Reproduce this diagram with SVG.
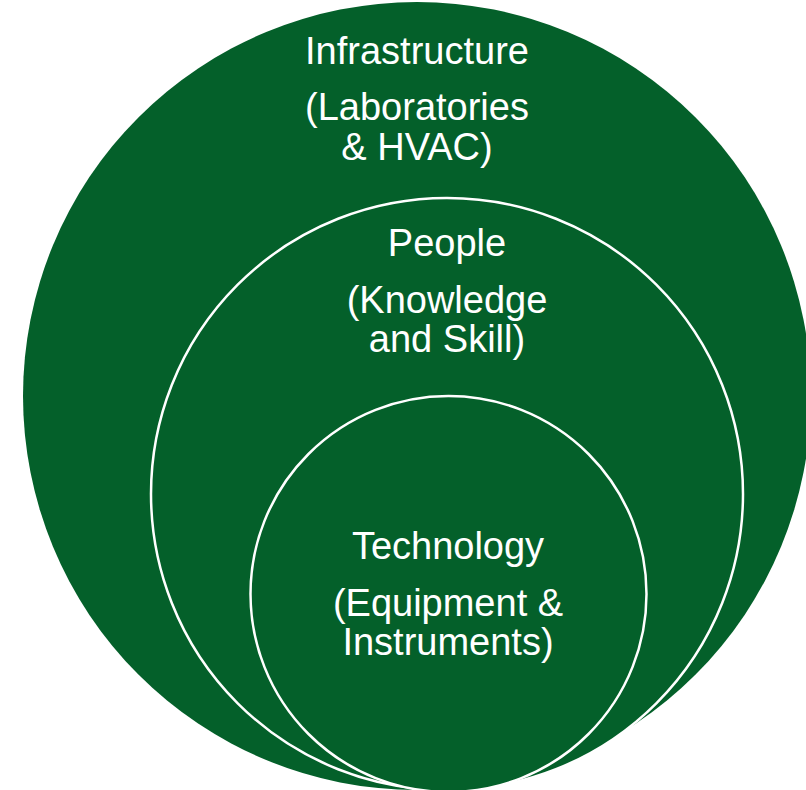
<svg xmlns="http://www.w3.org/2000/svg" width="806" height="790" viewBox="0 0 806 790">
<style>
.ring{fill:#04602A;stroke:#FFFFFF;stroke-width:2.5}
.lbl{font-family:"Liberation Sans",Arial,sans-serif;font-size:38px;fill:#FFFFFF;text-anchor:middle}
</style>
<rect width="806" height="790" fill="#FFFFFF"/>
<g id="infrastructure">
<circle cx="417" cy="396" r="394" fill="#04602A"/>
<text class="lbl" x="417" y="64">Infrastructure</text>
<text class="lbl" x="417" y="120">(Laboratories</text>
<text class="lbl" x="417" y="160">&amp; HVAC)</text>
</g>
<g id="people">
<circle class="ring" cx="447" cy="494" r="296"/>
<text class="lbl" x="447" y="256">People</text>
<text class="lbl" x="447" y="313">(Knowledge</text>
<text class="lbl" x="447" y="352">and Skill)</text>
</g>
<g id="technology">
<circle class="ring" cx="448.5" cy="594" r="198"/>
<text class="lbl" x="448" y="559">Technology</text>
<text class="lbl" x="448" y="616">(Equipment &amp;</text>
<text class="lbl" x="448" y="655">Instruments)</text>
</g>
<g id="connectors"/>
</svg>
